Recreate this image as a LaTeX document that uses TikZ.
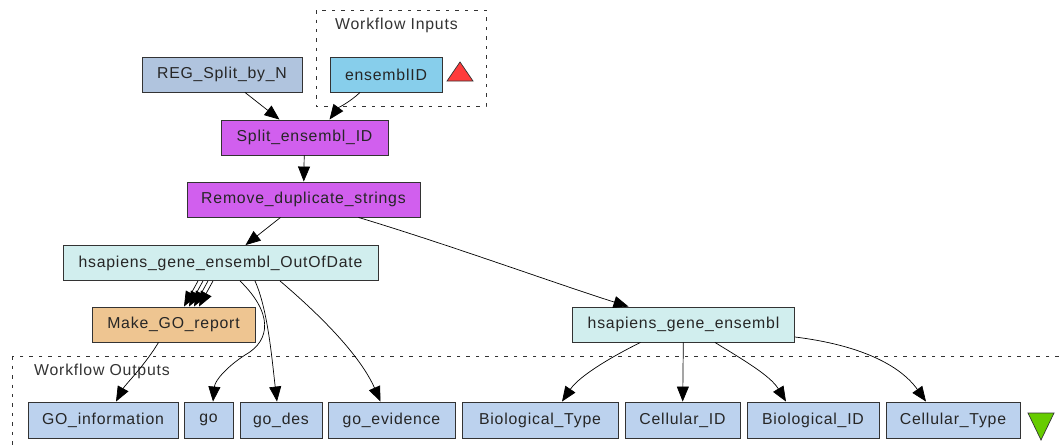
\documentclass[tikz,border=0pt]{standalone}
\usepackage{fontspec}
\setmainfont{Liberation Sans}[LetterSpace=5]
\usetikzlibrary{arrows.meta}

\definecolor{regblue}{HTML}{B0C4DE}
\definecolor{inblue}{HTML}{87CEEB}
\definecolor{procviolet}{HTML}{D15FEE}
\definecolor{martcyan}{HTML}{D1EEEE}
\definecolor{reportorange}{HTML}{EEC591}
\definecolor{outblue}{HTML}{BCD2EE}
\definecolor{inred}{HTML}{FF3B3B}
\definecolor{outgreen}{HTML}{66CC00}

\tikzset{
  box/.style={rectangle, draw=black!80, line width=0.5pt, minimum height=0.7cm, inner sep=0pt, text=black!85},
  outbox/.style={box, fill=outblue, minimum height=0.72cm},
  link/.style={-{Triangle[length=0.3cm,width=0.24cm]}, line width=0.4pt},
  frame/.style={dash pattern=on 0.07cm off 0.12cm, line width=0.5pt, black!80}
}

\begin{document}
\begin{tikzpicture}[x=0.02cm, y=-0.02cm, font=\fontsize{9}{10}\selectfont]
    \useasboundingbox (0,0) rectangle (1062,447);

    % riquadri ingressi / uscite
    \draw[frame] (316,10) rectangle (486,106);
    \draw[frame] (12,356) rectangle (1100,480);
    \node[anchor=west, text=black!80] (inlabel) at (329,25) {Workflow Inputs};
    \node[anchor=west, text=black!80] (outlabel) at (28,371) {Workflow Outputs};

    % processori
    \node[box, fill=regblue, minimum width=3.2cm] (reg) at (222,74.5) {REG\_Split\_by\_N};
    \node[box, fill=inblue, minimum width=2.24cm] (ensembl) at (386,74.5) {ensemblID};
    \node[box, fill=procviolet, minimum width=3.34cm] (split) at (304.5,137.5) {Split\_ensembl\_ID};
    \node[box, fill=procviolet, minimum width=4.66cm] (remove) at (303.5,199.5) {Remove\_duplicate\_strings};
    \node[box, fill=martcyan, minimum width=6.3cm] (ood) at (220.5,263) {hsapiens\_gene\_ensembl\_OutOfDate};
    \node[box, fill=reportorange, minimum width=3.26cm] (makego) at (173.5,324.5) {Make\_GO\_report};
    \node[box, fill=martcyan, minimum width=4.44cm] (gene) at (683.5,324.5) {hsapiens\_gene\_ensembl};

    % uscite
    \node[outbox, minimum width=3.0cm] (goinfo) at (103,420) {GO\_information};
    \node[outbox, minimum width=0.98cm] (go) at (208.5,420) {go};
    \node[outbox, minimum width=1.64cm] (godes) at (281,420) {go\_des};
    \node[outbox, minimum width=2.54cm] (goev) at (391.5,420) {go\_evidence};
    \node[outbox, minimum width=3.12cm] (biotype) at (540,420) {Biological\_Type};
    \node[outbox, minimum width=2.3cm] (cellid) at (682.5,420) {Cellular\_ID};
    \node[outbox, minimum width=2.64cm] (bioid) at (813,420) {Biological\_ID};
    \node[outbox, minimum width=2.68cm] (celltype) at (953,420) {Cellular\_Type};

    % triangoli
    \draw[fill=inred, draw=black!80, line width=0.4pt] (447,81) -- (473,81) -- (460,62) -- cycle;
    \draw[fill=outgreen, draw=black!80, line width=0.4pt] (1028,413) -- (1054,413) -- (1041,440) -- cycle;

    % collegamenti
    \draw[link] ([xshift=0.46cm]reg.south) -- ([xshift=-0.5cm]split.north);
    \draw[link] ([xshift=-0.52cm]ensembl.south) .. controls (350,102) and (338,108) .. ([xshift=0.5cm]split.north);
    \draw[link] (split) -- (remove);
    \draw[link] ([xshift=-0.46cm]remove.south) -- ([xshift=0.5cm]ood.north);
    \draw[link] ([xshift=1.1cm]remove.south) .. controls (450,245) and (560,285) .. ([xshift=-1.1cm]gene.north);
    \foreach \i in {0,...,3}
        \draw[link] ([xshift={-0.45cm+\i*0.1cm}]ood.south) -- ([xshift={0.21cm+\i*0.1cm}]makego.north);
    \draw[link] ([xshift=0.39cm]ood.south) .. controls (272,312) and (272,340) .. (245,355)
        .. controls (228,366) and (215,380) .. ([xshift=0.09cm]go.north);
    \draw[link] ([xshift=0.69cm]ood.south) .. controls (268,310) and (272,360) .. ([xshift=-0.08cm]godes.north);
    \draw[link] ([xshift=1.19cm]ood.south) .. controls (320,315) and (360,355) .. ([xshift=-0.22cm]goev.north);
    \draw[link] ([xshift=-0.3cm]makego.south) .. controls (145,365) and (125,385) .. ([xshift=0.26cm]goinfo.north);
    \draw[link] ([xshift=-0.86cm]gene.south) .. controls (615,355) and (580,375) .. ([xshift=0.44cm]biotype.north);
    \draw[link] (gene) -- (cellid);
    \draw[link] ([xshift=0.63cm]gene.south) .. controls (740,358) and (770,375) .. ([xshift=-0.54cm]bioid.north);
    \draw[link] ([yshift=-0.25cm]gene.east) .. controls (860,345) and (900,365) .. ([xshift=-0.54cm]celltype.north);
\end{tikzpicture}
\end{document}
